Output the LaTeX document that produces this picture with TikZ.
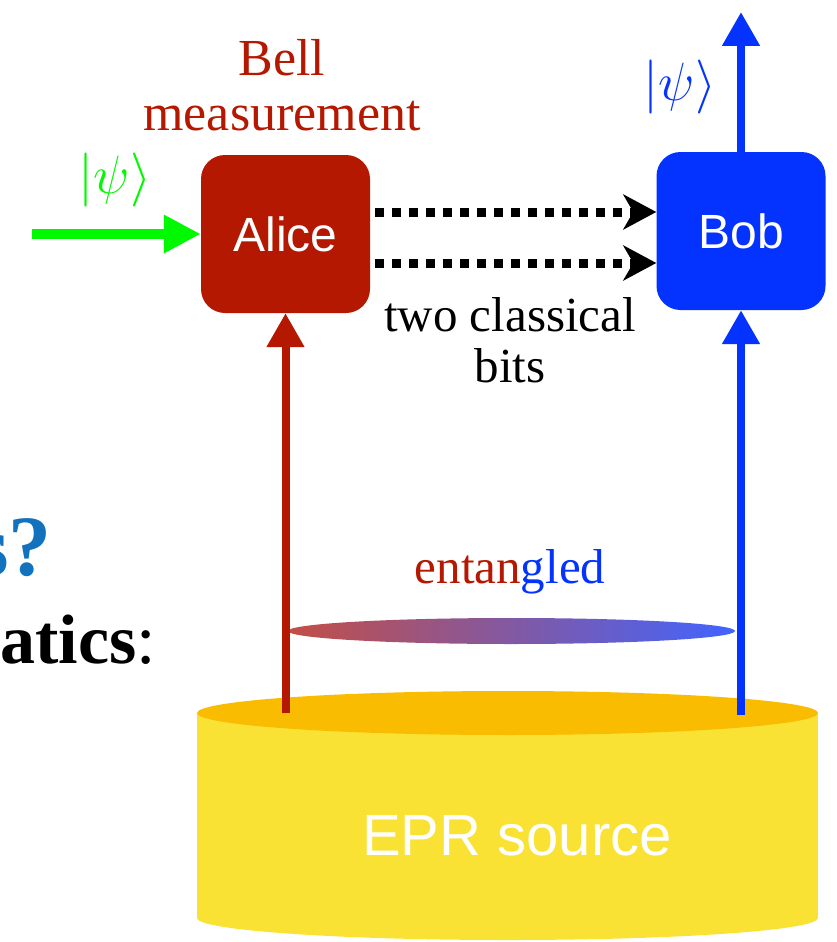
\documentclass[tikz,border=0pt]{standalone}
\usepackage{fix-cm}
\usepackage{fontspec}
\setmainfont{Liberation Serif}
\newfontfamily\boxfont{Liberation Sans}
\usetikzlibrary{arrows.meta}
\definecolor{alicered}{RGB}{181,24,0}
\definecolor{bobblue}{RGB}{4,51,255}
\definecolor{psigreen}{RGB}{0,249,0}
\definecolor{qblue}{RGB}{18,114,190}
\definecolor{srcyellow}{RGB}{250,226,52}
\definecolor{srctop}{RGB}{249,188,0}
\definecolor{entred}{RGB}{195,78,70}
\definecolor{entblue}{RGB}{65,100,255}
\tikzset{
  party/.style={rounded corners=24pt, minimum width=169pt, minimum height=158pt,
    inner sep=0pt, text=white, font=\boxfont\fontsize{48}{48}\selectfont},
  qarrow/.style={line width=8pt, -{Triangle[length=34pt,width=36pt]}},
  bitarrow/.style={line width=9pt, dash pattern=on 9pt off 8pt,
    -{Stealth[length=33pt,width=35pt,inset=10pt]}, shorten <=5pt},
  lbl/.style={inner sep=0pt, align=center, font=\fontsize{49}{51}\selectfont},
  ket/.style={inner sep=0pt, font=\fontsize{54}{54}\selectfont}
}
\begin{document}
\begin{tikzpicture}[x=1pt,y=-1pt]
  \useasboundingbox (0,0) rectangle (837,942);
  \clip (0,0) rectangle (837,942);
  % left over from the title
  \node[anchor=base east, inner sep=0pt, text=qblue,
    font=\fontsize{86}{86}\selectfont\bfseries] (qmark) at (52,575) {s?};
  \node[anchor=base east, inner sep=0pt,
    font=\fontsize{70}{70}\selectfont] (maths) at (156,663) {\textbf{atics}:};
  % EPR source
  \fill[srcyellow] (197,713) rectangle (818,918);
  \fill[srcyellow] (507.5,918) ellipse [x radius=310.5, y radius=22];
  \fill[srctop] (507.5,713) ellipse [x radius=310.5, y radius=22];
  \node[anchor=base, inner sep=0pt, text=white,
    font=\boxfont\fontsize{58}{58}\selectfont] (epr) at (517,855) {EPR source};
  \coordinate (srcA) at (285.5,713);
  \coordinate (srcB) at (741,715);
  % entangled pair
  \shade[left color=entred, right color=entblue] (511.5,631) ellipse [x radius=223.5, y radius=13];
  \node[lbl, anchor=base] (ent) at (510,583)
    {\textcolor{alicered}{entan}\textcolor{bobblue}{gled}};
  % the two parties
  \node[party, fill=alicered] (alice) at (285.5,234) {Alice};
  \node[party, fill=bobblue] (bob) at (741,231) {Bob};
  \node[lbl, anchor=south, text=alicered, font=\fontsize{52}{55}\selectfont]
    (bell) at (282,131) {Bell\\measurement};
  \coordinate (in) at (32,234);
  \coordinate (out) at (741,12);
  \node[ket, text=psigreen] (psiin) at (115,180) {$|\psi\rangle$};
  \node[ket, text=bobblue] (psiout) at (680,87) {$|\psi\rangle$};
  \draw[psigreen, line width=10pt, -{Triangle[length=37pt,width=36pt]}] (in) -- (alice.west);
  \draw[qarrow, alicered] (srcA) -- (alice.south);
  \draw[qarrow, bobblue] (srcB) -- (bob.south);
  \draw[qarrow, bobblue] (bob.north) -- (out);
  % classical channel
  \draw[bitarrow] (alice.east |- 0,212) -- (bob.west |- 0,212);
  \draw[bitarrow] (alice.east |- 0,263) -- (bob.west |- 0,263);
  \node[lbl, anchor=south] (bits) at (510,383) {two classical\\bits};
\end{tikzpicture}
\end{document}
